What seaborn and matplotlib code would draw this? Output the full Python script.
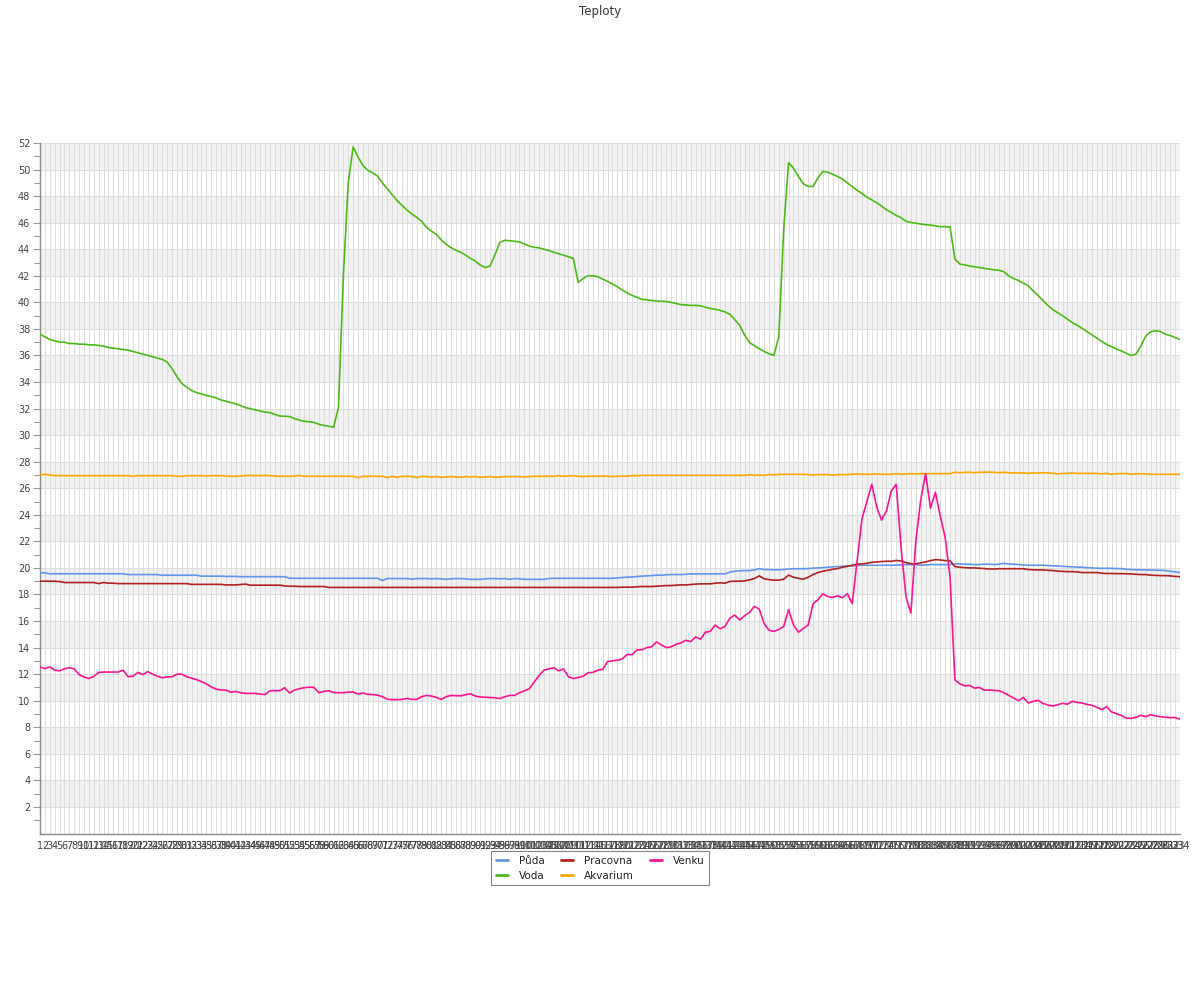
"""
Teploty - line chart of five temperature sensors over 234 readings.
"""

import matplotlib
matplotlib.use("Agg")
import matplotlib.pyplot as plt  # noqa: E402
import pandas as pd  # noqa: E402
import seaborn as sns  # noqa: E402
from matplotlib.ticker import FixedLocator  # noqa: E402


days = list(range(1, 235))

puda = [
    19.65, 19.62, 19.56, 19.56, 19.56, 19.56, 19.56, 19.56, 19.56, 19.56,
    19.56, 19.56, 19.56, 19.56, 19.56, 19.56, 19.56, 19.56, 19.5, 19.5,
    19.5, 19.5, 19.5, 19.5, 19.5, 19.45, 19.45, 19.45, 19.45, 19.45,
    19.45, 19.45, 19.45, 19.38, 19.38, 19.38, 19.38, 19.38, 19.36, 19.36,
    19.36, 19.34, 19.34, 19.34, 19.34, 19.34, 19.34, 19.34, 19.34, 19.34,
    19.34, 19.22, 19.22, 19.22, 19.22, 19.22, 19.22, 19.22, 19.22, 19.22,
    19.22, 19.22, 19.22, 19.22, 19.22, 19.22, 19.22, 19.22, 19.22, 19.22,
    19.05, 19.2, 19.2, 19.2, 19.2, 19.2, 19.15, 19.2, 19.2, 19.2,
    19.18, 19.2, 19.18, 19.14, 19.18, 19.2, 19.2, 19.18, 19.14, 19.14,
    19.14, 19.18, 19.2, 19.2, 19.18, 19.2, 19.14, 19.2, 19.18, 19.14,
    19.14, 19.14, 19.14, 19.14, 19.2, 19.22, 19.22, 19.22, 19.22, 19.22,
    19.22, 19.22, 19.22, 19.22, 19.22, 19.22, 19.22, 19.22, 19.25, 19.28,
    19.3, 19.32, 19.35, 19.38, 19.4, 19.42, 19.45, 19.45, 19.48, 19.5,
    19.5, 19.5, 19.52, 19.55, 19.55, 19.55, 19.55, 19.55, 19.55, 19.55,
    19.55, 19.68, 19.75, 19.78, 19.8, 19.8, 19.85, 19.94, 19.88, 19.88,
    19.86, 19.86, 19.88, 19.92, 19.94, 19.94, 19.94, 19.95, 19.98, 20.0,
    20.02, 20.05, 20.08, 20.1, 20.12, 20.15, 20.15, 20.18, 20.2, 20.2,
    20.2, 20.2, 20.2, 20.2, 20.2, 20.22, 20.22, 20.25, 20.25, 20.25,
    20.2, 20.22, 20.25, 20.25, 20.25, 20.25, 20.25, 20.3, 20.3, 20.28,
    20.28, 20.25, 20.25, 20.28, 20.28, 20.25, 20.28, 20.35, 20.3, 20.28,
    20.25, 20.22, 20.2, 20.2, 20.2, 20.2, 20.18, 20.15, 20.15, 20.12,
    20.1, 20.08, 20.06, 20.05, 20.02, 20.0, 19.98, 19.97, 19.97, 19.97,
    19.95, 19.95, 19.9, 19.88, 19.86, 19.86, 19.85, 19.84, 19.84, 19.82,
    19.8, 19.75, 19.7, 19.65,
]

voda = [
    37.6, 37.4, 37.2, 37.1, 37.0, 37.0, 36.9, 36.9, 36.85, 36.85,
    36.8, 36.8, 36.75, 36.7, 36.6, 36.55, 36.5, 36.45, 36.4, 36.3,
    36.2, 36.1, 36.0, 35.9, 35.8, 35.7, 35.5, 35.0, 34.4, 33.9,
    33.6, 33.35, 33.2, 33.1, 33.0, 32.9, 32.8, 32.65, 32.55, 32.45,
    32.36, 32.22, 32.07, 31.99, 31.9, 31.82, 31.73, 31.7, 31.56, 31.44,
    31.42, 31.4, 31.25, 31.13, 31.04, 31.0, 30.96, 30.82, 30.73, 30.67,
    30.6, 32.07, 42.0, 49.0, 51.7, 50.95, 50.3, 49.95, 49.75, 49.5,
    49.0, 48.55, 48.1, 47.65, 47.3, 46.95, 46.65, 46.4, 46.1, 45.65,
    45.35, 45.13, 44.7, 44.38, 44.12, 43.92, 43.78, 43.55, 43.31, 43.1,
    42.8, 42.62, 42.74, 43.6, 44.52, 44.67, 44.64, 44.6, 44.55, 44.4,
    44.24, 44.15, 44.1, 44.0, 43.9, 43.78, 43.66, 43.55, 43.43, 43.31,
    41.5, 41.8, 42.0, 42.0, 41.93, 41.75, 41.58, 41.38, 41.18, 40.92,
    40.72, 40.52, 40.38, 40.23, 40.2, 40.14, 40.09, 40.09, 40.06, 40.0,
    39.91, 39.83, 39.8, 39.77, 39.77, 39.74, 39.63, 39.54, 39.48, 39.4,
    39.28, 39.1, 38.7, 38.27, 37.55, 36.97, 36.74, 36.51, 36.3, 36.13,
    36.0, 37.4, 45.5, 50.52, 50.1, 49.5, 48.93, 48.73, 48.73, 49.37,
    49.86, 49.8, 49.65, 49.48, 49.28, 49.0, 48.73, 48.44, 48.2, 47.92,
    47.72, 47.5, 47.26, 46.97, 46.77, 46.54, 46.37, 46.1, 46.02, 45.96,
    45.9, 45.85, 45.82, 45.76, 45.7, 45.7, 45.68, 43.26, 42.88, 42.82,
    42.74, 42.68, 42.62, 42.56, 42.5, 42.45, 42.42, 42.3, 41.99, 41.79,
    41.64, 41.44, 41.24, 40.86, 40.52, 40.14, 39.77, 39.45, 39.22, 38.99,
    38.73, 38.47, 38.27, 38.04, 37.8, 37.55, 37.29, 37.06, 36.83, 36.66,
    36.48, 36.34, 36.17, 36.0, 36.1, 36.7, 37.46, 37.78, 37.87, 37.8,
    37.6, 37.5, 37.35, 37.2,
]

pracovna = [
    19.0, 19.0, 19.0, 19.0, 18.97, 18.9, 18.9, 18.9, 18.9, 18.9,
    18.9, 18.9, 18.82, 18.9, 18.85, 18.85, 18.82, 18.82, 18.82, 18.82,
    18.82, 18.82, 18.82, 18.82, 18.82, 18.82, 18.82, 18.82, 18.82, 18.82,
    18.82, 18.76, 18.76, 18.76, 18.76, 18.76, 18.76, 18.76, 18.72, 18.72,
    18.72, 18.75, 18.78, 18.7, 18.7, 18.7, 18.7, 18.7, 18.7, 18.7,
    18.65, 18.62, 18.62, 18.6, 18.6, 18.6, 18.6, 18.6, 18.6, 18.53,
    18.53, 18.53, 18.53, 18.53, 18.53, 18.53, 18.53, 18.53, 18.53, 18.53,
    18.53, 18.53, 18.53, 18.53, 18.53, 18.53, 18.53, 18.53, 18.53, 18.53,
    18.53, 18.53, 18.53, 18.53, 18.53, 18.53, 18.53, 18.53, 18.53, 18.53,
    18.53, 18.53, 18.53, 18.53, 18.53, 18.53, 18.53, 18.53, 18.53, 18.53,
    18.53, 18.53, 18.53, 18.53, 18.53, 18.53, 18.53, 18.53, 18.53, 18.53,
    18.53, 18.53, 18.53, 18.53, 18.53, 18.53, 18.53, 18.53, 18.53, 18.55,
    18.55, 18.55, 18.58, 18.6, 18.6, 18.6, 18.62, 18.65, 18.67, 18.67,
    18.7, 18.72, 18.72, 18.75, 18.78, 18.8, 18.8, 18.8, 18.85, 18.88,
    18.85, 18.98, 19.0, 19.0, 19.02, 19.1, 19.2, 19.4, 19.18, 19.12,
    19.08, 19.08, 19.15, 19.46, 19.3, 19.22, 19.15, 19.3, 19.5, 19.65,
    19.75, 19.82, 19.9, 19.95, 20.05, 20.12, 20.2, 20.28, 20.3, 20.35,
    20.42, 20.45, 20.48, 20.5, 20.5, 20.56, 20.52, 20.4, 20.32, 20.3,
    20.38, 20.45, 20.55, 20.62, 20.6, 20.55, 20.54, 20.1, 20.05, 20.02,
    20.0, 20.0, 19.98, 19.95, 19.92, 19.92, 19.94, 19.94, 19.94, 19.94,
    19.94, 19.94, 19.88, 19.86, 19.85, 19.85, 19.82, 19.8, 19.76, 19.74,
    19.72, 19.72, 19.7, 19.65, 19.65, 19.65, 19.65, 19.6, 19.58, 19.58,
    19.57, 19.57, 19.56, 19.55, 19.52, 19.5, 19.5, 19.45, 19.44, 19.42,
    19.42, 19.4, 19.36, 19.34,
]

akvarium = [
    27.0, 27.05, 27.0, 26.95, 26.95, 26.95, 26.95, 26.95, 26.95, 26.95,
    26.95, 26.95, 26.95, 26.95, 26.95, 26.95, 26.95, 26.95, 26.95, 26.9,
    26.95, 26.95, 26.95, 26.95, 26.95, 26.95, 26.95, 26.95, 26.9, 26.9,
    26.95, 26.95, 26.95, 26.95, 26.92, 26.95, 26.95, 26.95, 26.92, 26.9,
    26.9, 26.92, 26.95, 26.97, 26.95, 26.95, 26.97, 26.95, 26.92, 26.9,
    26.9, 26.9, 26.92, 26.97, 26.9, 26.9, 26.9, 26.9, 26.9, 26.9,
    26.9, 26.9, 26.9, 26.9, 26.9, 26.8, 26.9, 26.9, 26.9, 26.9,
    26.9, 26.8, 26.9, 26.82, 26.9, 26.9, 26.88, 26.8, 26.9, 26.88,
    26.85, 26.88, 26.82, 26.85, 26.88, 26.85, 26.82, 26.88, 26.85, 26.88,
    26.82, 26.85, 26.88, 26.82, 26.85, 26.88, 26.88, 26.88, 26.88, 26.85,
    26.88, 26.9, 26.9, 26.9, 26.9, 26.9, 26.95, 26.9, 26.92, 26.95,
    26.9, 26.88, 26.9, 26.9, 26.9, 26.92, 26.9, 26.88, 26.9, 26.92,
    26.9, 26.95, 26.95, 26.97, 26.97, 26.97, 26.97, 26.97, 26.97, 26.97,
    26.97, 26.97, 26.97, 26.97, 26.97, 26.97, 26.97, 26.97, 26.97, 26.97,
    26.97, 26.97, 26.97, 26.97, 26.97, 27.02, 26.97, 27.0, 26.97, 27.03,
    27.0, 27.05, 27.05, 27.05, 27.05, 27.05, 27.05, 27.03, 27.0, 27.03,
    27.03, 27.03, 26.98, 27.03, 27.03, 27.03, 27.05, 27.08, 27.05, 27.05,
    27.05, 27.08, 27.05, 27.05, 27.05, 27.1, 27.05, 27.08, 27.1, 27.08,
    27.1, 27.1, 27.1, 27.1, 27.1, 27.1, 27.1, 27.2, 27.17, 27.2,
    27.2, 27.17, 27.2, 27.2, 27.22, 27.2, 27.17, 27.2, 27.17, 27.15,
    27.15, 27.15, 27.12, 27.15, 27.15, 27.17, 27.15, 27.12, 27.08, 27.12,
    27.12, 27.15, 27.12, 27.12, 27.12, 27.12, 27.12, 27.08, 27.12, 27.05,
    27.1, 27.1, 27.12, 27.05, 27.08, 27.1, 27.08, 27.05, 27.05, 27.05,
    27.05, 27.05, 27.05, 27.05,
]

venku = [
    12.54, 12.42, 12.54, 12.3, 12.25, 12.4, 12.48, 12.4, 11.96, 11.79,
    11.67, 11.84, 12.13, 12.16, 12.16, 12.16, 12.16, 12.3, 11.81, 11.84,
    12.13, 11.96, 12.19, 12.0, 11.84, 11.73, 11.79, 11.81, 12.0, 12.0,
    11.81, 11.7, 11.59, 11.44, 11.27, 11.04, 10.87, 10.81, 10.8, 10.64,
    10.7, 10.6, 10.55, 10.55, 10.55, 10.5, 10.46, 10.75, 10.75, 10.75,
    10.98, 10.58, 10.8, 10.9, 10.98, 11.02, 11.0, 10.6, 10.7, 10.75,
    10.62, 10.6, 10.6, 10.65, 10.66, 10.5, 10.58, 10.48, 10.46, 10.42,
    10.3, 10.11, 10.08, 10.08, 10.1, 10.17, 10.1, 10.1, 10.3, 10.4,
    10.35, 10.25, 10.1, 10.3, 10.4, 10.38, 10.37, 10.45, 10.52, 10.35,
    10.28, 10.26, 10.24, 10.22, 10.17, 10.3, 10.4, 10.4, 10.6, 10.75,
    10.9, 11.4, 11.9, 12.3, 12.4, 12.48, 12.25, 12.39, 11.81, 11.67,
    11.75, 11.84, 12.1, 12.13, 12.3, 12.36, 12.95, 13.0, 13.05, 13.14,
    13.49, 13.46, 13.83, 13.83, 14.0, 14.06, 14.43, 14.2, 14.0, 14.06,
    14.25, 14.35, 14.55, 14.45, 14.8, 14.64, 15.16, 15.22, 15.7, 15.42,
    15.59, 16.22, 16.45, 16.08, 16.4, 16.65, 17.1, 16.9, 15.8, 15.3,
    15.22, 15.36, 15.6, 16.86, 15.7, 15.16, 15.44, 15.7, 17.3, 17.6,
    18.05, 17.85, 17.78, 17.9, 17.75, 18.07, 17.3, 20.5, 23.7, 25.0,
    26.3, 24.6, 23.6, 24.3, 25.8, 26.3, 21.5, 17.8, 16.6, 22.0,
    25.1, 27.1, 24.5, 25.7, 23.9, 22.3, 19.3, 11.56, 11.27, 11.12,
    11.15, 10.95, 11.0, 10.8, 10.8, 10.78, 10.75, 10.6, 10.4, 10.2,
    10.0, 10.25, 9.83, 9.95, 10.03, 9.8, 9.68, 9.6, 9.7, 9.8,
    9.74, 9.95, 9.87, 9.83, 9.72, 9.66, 9.5, 9.33, 9.55, 9.16,
    9.02, 8.9, 8.68, 8.67, 8.75, 8.9, 8.8, 8.95, 8.85, 8.8,
    8.75, 8.73, 8.73, 8.6,
]

# legend is filled column-wise with ncol=3 -> Půda/Voda, Pracovna/Akvarium, Venku
series_order = ["Půda", "Voda", "Pracovna", "Akvarium", "Venku"]
palette = {
    "Půda": "#6495ed",
    "Voda": "#4cbb17",
    "Pracovna": "#b22222",
    "Akvarium": "#ffa500",
    "Venku": "#ff1493",
}

TICK_COLOR = "#444444"
GRID_COLOR = "#dedede"
BAND_COLOR = "#f2f2f2"


def build_frame() -> pd.DataFrame:
    cols = {
        "Půda": puda,
        "Voda": voda,
        "Pracovna": pracovna,
        "Akvarium": akvarium,
        "Venku": venku,
    }
    wide = pd.DataFrame(cols, index=pd.Index(days, name="den"))
    return wide.reset_index().melt(id_vars="den", var_name="cidlo", value_name="teplota")


def main() -> None:
    sns.set_style("white")
    plt.rcParams["font.family"] = ["DejaVu Sans"]

    df = build_frame()

    fig = plt.figure(figsize=(12, 10), dpi=100)
    ax = fig.add_axes([40 / 1200, 1 - 833.5 / 1000, 1140 / 1200, 690.5 / 1000])

    # alternating horizontal bands
    for lo in range(2, 52, 4):
        ax.axhspan(lo, lo + 2, color=BAND_COLOR, zorder=0, lw=0)

    sns.lineplot(
        data=df,
        x="den",
        y="teplota",
        hue="cidlo",
        hue_order=series_order,
        palette=palette,
        sort=False,
        estimator=None,
        linewidth=1.2,
        ax=ax,
        zorder=3,
    )

    ax.set_xlim(days[0], days[-1])
    ax.set_ylim(0, 52)

    ax.set_xticks(days)
    ax.set_xticklabels([str(d) for d in days], fontsize=7, color=TICK_COLOR)
    ax.yaxis.set_major_locator(FixedLocator(list(range(2, 53, 2))))
    ax.yaxis.set_minor_locator(FixedLocator(list(range(1, 52, 2))))
    ax.tick_params(axis="y", which="major", labelsize=7, labelcolor=TICK_COLOR,
                   length=5, width=0.8, color="#999999", pad=2, left=True)
    ax.tick_params(axis="y", which="minor", length=4, width=0.8,
                   color="#999999", left=True)
    ax.tick_params(axis="x", length=0, pad=5.5)

    ax.grid(True, axis="both", which="major", color=GRID_COLOR, lw=0.75, zorder=1)
    ax.set_axisbelow(True)

    for side in ("top", "right"):
        ax.spines[side].set_visible(False)
    for side in ("left", "bottom"):
        ax.spines[side].set_color("#8c8c8c")
        ax.spines[side].set_linewidth(1.0)

    ax.set_xlabel("")
    ax.set_ylabel("")

    handles, labels = ax.get_legend_handles_labels()
    ax.get_legend().remove()
    leg = fig.legend(
        handles,
        labels,
        loc="upper center",
        bbox_to_anchor=(0.5, 1 - 846 / 1000),
        ncol=3,
        fontsize=7.5,
        frameon=True,
        fancybox=False,
        edgecolor="#666666",
        handlelength=1.2,
        handletextpad=1.0,
        columnspacing=1.55,
        borderpad=0.45,
        labelspacing=0.45,
    )
    leg.get_frame().set_linewidth(0.8)
    for line in leg.get_lines():
        line.set_linewidth(2.0)

    fig.suptitle("Teploty", y=1 - 11 / 1000, va="center", fontsize=8.5, color="#333333")

    fig.savefig("out.png", dpi=100)
    plt.close(fig)


if __name__ == "__main__":
    main()
